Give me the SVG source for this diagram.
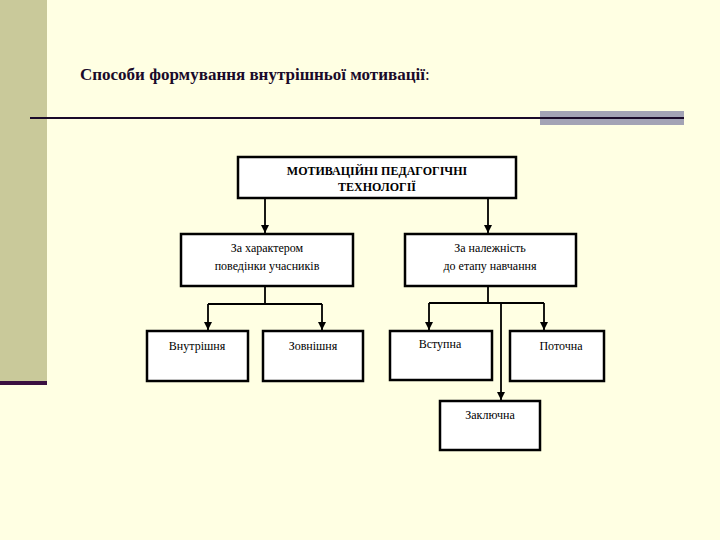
<svg xmlns="http://www.w3.org/2000/svg" width="720" height="540" viewBox="0 0 720 540">
<style>
.box{fill:#fff;stroke:#000;stroke-width:2.5}
.t{font-family:'Liberation Serif','Times New Roman','DejaVu Serif',serif;font-size:12px;text-anchor:middle;fill:#000}
.ttl{font-family:'Liberation Serif','Times New Roman','DejaVu Serif',serif;font-size:17px;font-weight:bold;fill:#1a0a2a}
.c{fill:none;stroke:#000;stroke-width:1.8}
</style>
<defs>
<marker id="b" viewBox="0 0 8 8" markerWidth="8" markerHeight="8" refX="8" refY="4" orient="auto" markerUnits="userSpaceOnUse"><path d="M0,0 L8,4 L0,8 Z" fill="#000"/></marker></defs>
<rect width="720" height="540" fill="#FFFFE3"/>
<rect width="47" height="385" fill="#C9C99A"/>
<rect y="381" width="47" height="4" fill="#3a1040"/>
<text class="ttl" x="80" y="80">Способи формування внутрішньої мотивації<tspan font-weight="normal">:</tspan></text>
<rect x="540" y="111" width="144" height="14" fill="#a3a3b5"/>
<line x1="30" y1="118" x2="684" y2="118" stroke="#1a0a2a" stroke-width="2"/>
<g id="connectors">
<path class="c" d="M265,198 V233" marker-end="url(#b)"/>
<path class="c" d="M488,198 V233" marker-end="url(#b)"/>
<path class="c" d="M265,286 V304 M208,304 H322"/>
<path class="c" d="M208,304 V330" marker-end="url(#b)"/>
<path class="c" d="M322,304 V330" marker-end="url(#b)"/>
<path class="c" d="M488,286 V303 M429,303 H544"/>
<path class="c" d="M429,303 V330" marker-end="url(#b)"/>
<path class="c" d="M544,303 V330" marker-end="url(#b)"/>
<path class="c" d="M501,303 V400" marker-end="url(#b)"/>
</g>
<g id="top"><rect class="box" x="238" y="157" width="278" height="41"/><text class="t" font-weight="bold" x="377" y="175">МОТИВАЦІЙНІ ПЕДАГОГІЧНІ</text><text class="t" font-weight="bold" x="377" y="191">ТЕХНОЛОГІЇ</text></g>
<g id="n1"><rect class="box" x="181" y="234" width="172" height="52"/><text class="t" x="267" y="252">За характером</text><text class="t" x="267" y="270">поведінки учасників</text></g>
<g id="n2"><rect class="box" x="405" y="234" width="171" height="52"/><text class="t" x="490" y="252">За належність</text><text class="t" x="490" y="270">до етапу навчання</text></g>
<g id="n3"><rect class="box" x="147" y="331" width="101" height="50"/><text class="t" x="197" y="350">Внутрішня</text></g>
<g id="n4"><rect class="box" x="263" y="331" width="100" height="50"/><text class="t" x="313" y="350">Зовнішня</text></g>
<g id="n5"><rect class="box" x="390" y="331" width="102" height="49"/><text class="t" x="440" y="348">Вступна</text></g>
<g id="n6"><rect class="box" x="510" y="331" width="94" height="50"/><text class="t" x="561" y="350">Поточна</text></g>
<g id="n7"><rect class="box" x="440" y="401" width="100" height="49"/><text class="t" x="490" y="419">Заключна</text></g>
</svg>
